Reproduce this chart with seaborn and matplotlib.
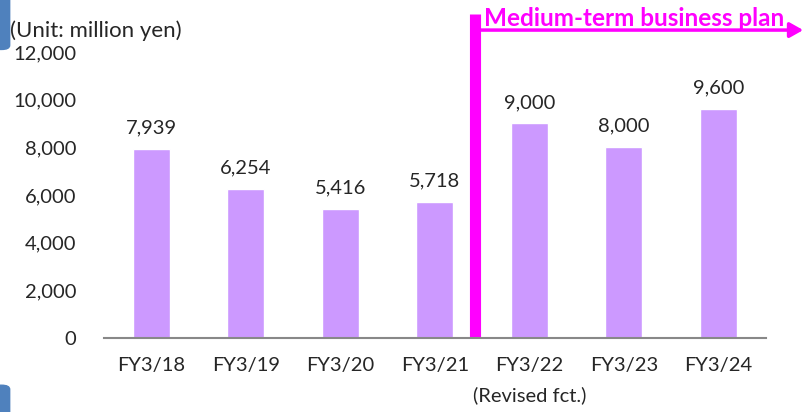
import matplotlib.pyplot as plt
import seaborn as sns
import numpy as np
import pandas as pd
from matplotlib.patches import FancyBboxPatch

# Данные графика
years = ['FY3/18', 'FY3/19', 'FY3/20', 'FY3/21', 'FY3/22\n(Revised fct.)', 'FY3/23', 'FY3/24']
values = [7939, 6254, 5416, 5718, 9000, 8000, 9600]
y_ticks = [0, 2000, 4000, 6000, 8000, 10000, 12000]

df = pd.DataFrame({'year': years, 'value': values})

sns.set_style('white')
plt.rcParams['font.family'] = ['Lato', 'DejaVu Sans']

fig = plt.figure(figsize=(8.06, 4.12), dpi=100)
ax = fig.add_axes([0.129, 0.18, 0.821, 0.694])

sns.barplot(data=df, x='year', y='value', color='#CC99FF', saturation=1, width=0.39, ax=ax)

# Подписи значений над столбцами
ax.bar_label(ax.containers[0], labels=[f'{v:,}' for v in values], padding=9, fontsize=14.5)

ax.set_ylim(0, 12000)
ax.set_xlim(-0.5, len(years) - 0.5)
ax.set_yticks(y_ticks)
ax.set_yticklabels([f'{t:,}' for t in y_ticks], fontsize=14.5)
ax.tick_params(axis='y', length=0, pad=20)
ax.tick_params(axis='x', which='major', length=0, pad=14, labelsize=14.5)
for lbl in ax.get_xticklabels():
    lbl.set_linespacing(1.8)
ax.set_xticks(np.arange(-0.5, len(years), 1), minor=True)
ax.tick_params(axis='x', which='minor', length=6, color='#888888', width=1.2)
ax.set_xlabel('')
ax.set_ylabel('')
for s in ['top', 'right', 'left']:
    ax.spines[s].set_visible(False)
ax.spines['bottom'].set_color('#888888')
ax.spines['bottom'].set_linewidth(1.5)

# Граница среднесрочного плана
ax.plot([3.42, 3.42], [0, 13600], color='#FF00FF', lw=8, solid_capstyle='butt', clip_on=False)
ax.annotate('', xy=(1.0, 0.927), xycoords='figure fraction',
            xytext=(0.592, 0.927), textcoords='figure fraction',
            arrowprops=dict(arrowstyle='-|>,head_length=0.8,head_width=0.45', color='#FF00FF', lw=2.5))
fig.text(0.600, 0.955, 'Medium-term business plan', color='#FF00FF', fontsize=17.5,
         fontweight='bold', ha='left', va='center')

fig.text(0.012, 0.925, '(Unit: million yen)', fontsize=16, ha='left', va='center')

# Синие элементы оформления слева
fig.patches.append(FancyBboxPatch((-0.02, 0.88), 0.032, 0.15, boxstyle='round,pad=0,rounding_size=0.01',
                                  transform=fig.transFigure, color='#4F81BD', figure=fig))
fig.patches.append(FancyBboxPatch((-0.02, -0.05), 0.032, 0.115, boxstyle='round,pad=0,rounding_size=0.01',
                                  transform=fig.transFigure, color='#4F81BD', figure=fig))

plt.savefig('out.png', dpi=100)
